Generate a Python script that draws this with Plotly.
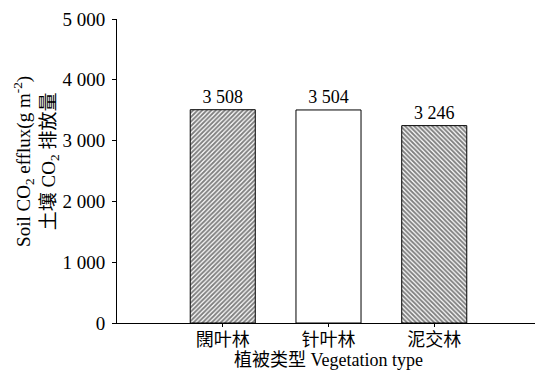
import plotly.graph_objects as go

categories = ["闊叶林", "针叶林", "泥交林"]
values = [3508, 3504, 3246]
value_labels = ["3 508", "3 504", "3 246"]
patterns = ["/", "", "\\"]
y_tickvals = [0, 1000, 2000, 3000, 4000, 5000]
y_ticktext = ["0", "1 000", "2 000", "3 000", "4 000", "5 000"]
y_title = "Soil CO<sub>2</sub> efflux(g m<sup>-2</sup>)<br>土壤 CO<sub>2</sub> 排放量"
x_title = "植被类型 Vegetation type"

FONT = "Liberation Serif, Times New Roman, Noto Sans CJK SC, serif"
xpos = list(range(len(categories)))

fig = go.Figure(go.Bar(
    x=xpos, y=values, width=0.615,
    text=value_labels, textposition="outside", cliponaxis=False,
    textfont=dict(family=FONT, size=18, color="black"),
    marker=dict(color="white", line=dict(color="black", width=1),
                pattern=dict(shape=patterns, fgcolor="black", bgcolor="white",
                             size=3.2, solidity=0.6)),
))

fig.update_layout(
    width=535, height=370,
    margin=dict(l=109, r=3, t=11, b=55),
    paper_bgcolor="white", plot_bgcolor="white",
    showlegend=False,
    font=dict(family=FONT, size=18, color="black"),
    xaxis=dict(range=[-1, 3], tickvals=xpos, ticktext=categories,
               automargin=False, ticklabelstandoff=-3,
               showline=True, linecolor="black", linewidth=1,
               ticks="outside", ticklen=3, tickcolor="black",
               showgrid=False, zeroline=False,
               tickfont=dict(size=18),
               title=dict(text=x_title, font=dict(size=18), standoff=0)),
    yaxis=dict(range=[0, 5000], tickvals=y_tickvals, ticktext=y_ticktext,
               automargin=False, ticklabelstandoff=3,
               showline=True, linecolor="black", linewidth=1,
               ticks="outside", ticklen=4, tickcolor="black",
               showgrid=False, zeroline=False,
               tickfont=dict(size=19)),
    annotations=[dict(text=y_title, textangle=-90, showarrow=False,
                      xref="paper", yref="paper", x=0, y=0.53,
                      xanchor="center", yanchor="middle", xshift=-81,
                      font=dict(family=FONT, size=19, color="black"))],
)

fig.write_html("out.html")
